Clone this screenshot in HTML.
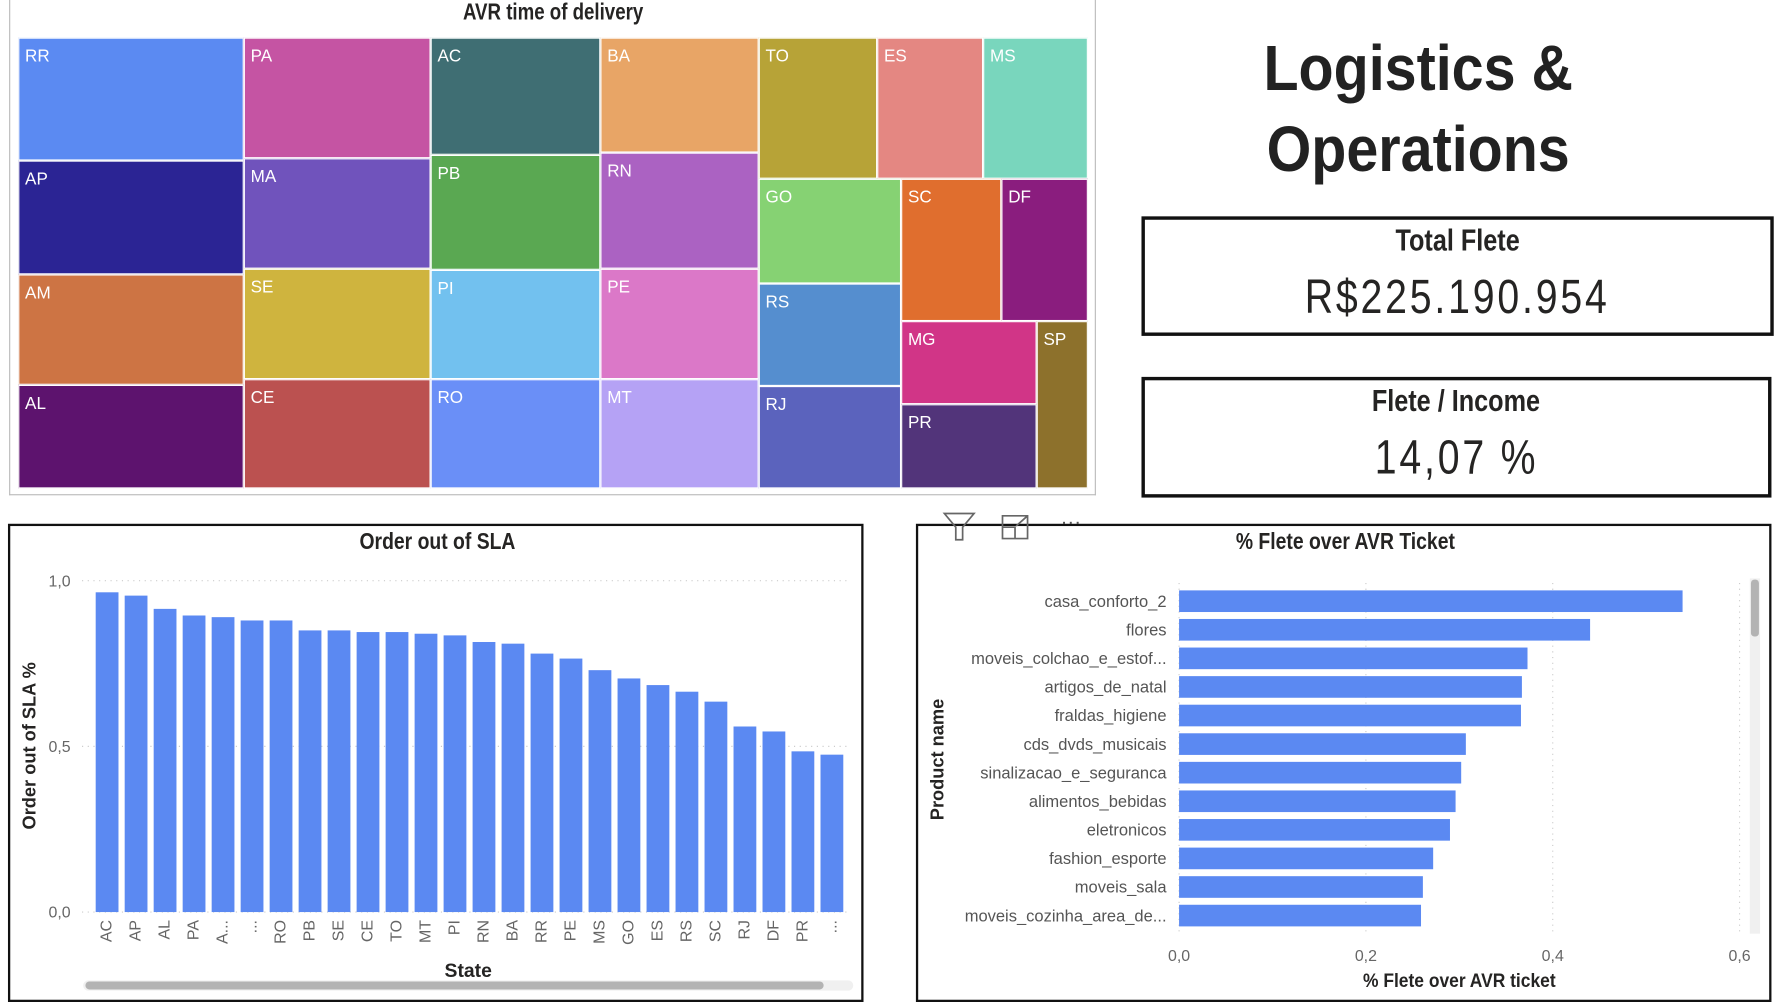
<!DOCTYPE html>
<html><head><meta charset="utf-8"><style>
html,body{margin:0;padding:0;background:#fff;overflow:hidden}
#wrap{position:absolute;left:0;top:0;width:1560px;height:880px;transform-origin:0 0;transform:scale(1.1392,1.13864);font-family:"Liberation Sans",sans-serif;color:#252423}
.abs{position:absolute}
.tm{position:absolute;box-sizing:border-box;border:1px solid #fff;color:#fff;font-size:15px;padding:7px 0 0 5px}
.card{position:absolute;box-sizing:border-box;border:3px solid #111;text-align:center}
.cond{display:inline-block;transform:scaleX(0.82)}
</style></head><body>
<div id="wrap">
<div class="abs" style="left:8px;top:-2px;width:954px;height:437px;border:1px solid #bbb;border-top:none;box-sizing:border-box"></div>
<div class="abs" style="left:8px;top:0;width:955px;text-align:center;font-size:20px;font-weight:bold"><span class="cond">AVR time of delivery</span></div>
<div id="treemap"></div>

<div class="abs" style="left:1030px;top:24px;width:430px;text-align:center;font-size:56px;font-weight:bold;line-height:71px;color:#222"><span class="cond" style="transform:scaleX(0.9)">Logistics &amp;<br>Operations</span></div>
<div class="card" style="left:1002px;top:190px;width:555px;height:105px">
 <div style="font-size:27px;font-weight:bold;margin-top:3px"><span class="cond">Total Flete</span></div>
 <div style="font-size:42px;margin-top:10px;letter-spacing:3px"><span class="cond">R$225.190.954</span></div>
</div>
<div class="card" style="left:1002px;top:331px;width:553px;height:106px">
 <div style="font-size:27px;font-weight:bold;margin-top:3px"><span class="cond">Flete / Income</span></div>
 <div style="font-size:42px;margin-top:10px;letter-spacing:3px"><span class="cond">14,07 %</span></div>
</div>

<div class="abs" style="left:7px;top:460px;width:751px;height:420px;border:2px solid #111;box-sizing:border-box"></div>
<svg class="abs" id="sla" style="left:0;top:0" width="1560" height="880"></svg>

<div class="abs" style="left:804px;top:460px;width:751px;height:420px;border:2px solid #111;box-sizing:border-box"></div>
<svg class="abs" id="hb" style="left:0;top:0" width="1560" height="880"></svg>
</div>
<script>
// Treemap
const tmNames=["RR","AP","AM","AL","PA","MA","SE","CE","AC","PB","PI","RO","BA","RN","PE","MT","TO","ES","MS","GO","RS","RJ","SC","DF","MG","PR","SP"];
const tmColors=["#5b8af2","#2b2494","#cd7444","#5d136e","#c554a3","#7053bc","#cfb43e","#bb5150","#3f6e73","#5aa852","#72c1ef","#6a8ff7","#e8a566","#ab62c2","#db78c8","#b5a2f5","#b7a337","#e48782","#79d6bd","#86d273","#558ecf","#5b63bd","#e06e2e","#8a1d7e","#d13587","#52347a","#8d712c"];
const tmRects=[[16,33,214,141],[16,141,214,241],[16,241,214,338],[16,338,214,429],[214,33,378,139],[214,139,378,236],[214,236,378,333],[214,333,378,429],[378,33,527,136],[378,136,527,237],[378,237,527,333],[378,333,527,429],[527,33,666,134],[527,134,666,236],[527,236,666,333],[527,333,666,429],[666,33,770,157],[770,33,863,157],[863,33,955,157],[666,157,791,249],[666,249,791,339],[666,339,791,429],[791,157,879,282],[879,157,955,282],[791,282,910,355],[791,355,910,429],[910,282,955,429]];
const tm=document.getElementById('treemap');
tmNames.forEach((n,i)=>{const r=tmRects[i];const d=document.createElement('div');d.className='tm';


d.style.cssText+=`left:${r[0]}px;top:${r[1]}px;width:${r[2]-r[0]}px;height:${r[3]-r[1]}px;background:${tmColors[i]}`;d.textContent=n;tm.appendChild(d);});

const NS='http://www.w3.org/2000/svg';
function mk(svg,tag,attrs,txt){const e=document.createElementNS(NS,tag);for(const k in attrs)e.setAttribute(k,attrs[k]);if(txt!==undefined)e.textContent=txt;svg.appendChild(e);return e;}

// SLA chart
const slaStates=["AC","AP","AL","PA","A...","...","RO","PB","SE","CE","TO","MT","PI","RN","BA","RR","PE","MS","GO","ES","RS","SC","RJ","DF","PR","..."];
const slaValues=[0.965,0.955,0.915,0.895,0.89,0.88,0.88,0.85,0.85,0.845,0.845,0.84,0.835,0.815,0.81,0.78,0.765,0.73,0.705,0.685,0.665,0.635,0.56,0.545,0.485,0.475];
const slaTicks=[0,0.5,1.0];
const sla=document.getElementById('sla');
const sy=v=>801-291*v, sx=i=>81.5+i*25.45;
let t=mk(sla,'text',{x:384,y:482,'text-anchor':'middle','font-size':20,'font-weight':'bold',fill:'#252423',transform:'translate(384 0) scale(0.85 1) translate(-384 0)'},'Order out of SLA');


slaTicks.forEach(v=>{const g=mk(sla,'line',{x1:72,x2:745,y1:sy(v),y2:sy(v),stroke:'#ccc','stroke-dasharray':'1 4'});


const l=mk(sla,'text',{x:62,y:sy(v)+5,'text-anchor':'end','font-size':14,fill:'#666'},v.toFixed(1).replace('.',','));

});
slaStates.forEach((s,i)=>{const b=mk(sla,'rect',{x:sx(i)+2.5,y:sy(slaValues[i]),width:20,height:sy(0)-sy(slaValues[i]),fill:'#5b89f2'});


const cx=sx(i)+16.5;const l=mk(sla,'text',{x:cx,y:808,'text-anchor':'end','font-size':14,fill:'#666',transform:`rotate(-90 ${cx} 808)`},s);

});
t=mk(sla,'text',{x:31,y:655,'text-anchor':'middle','font-size':16,'font-weight':'bold',fill:'#252423',transform:'rotate(-90 31 655)'},'Order out of SLA %');


t=mk(sla,'text',{x:411,y:858,'text-anchor':'middle','font-size':17,'font-weight':'bold',fill:'#252423'},'State');


t=mk(sla,'rect',{x:73,y:861,width:676,height:9,rx:4.5,fill:'#f0f0f0'});


t=mk(sla,'rect',{x:75,y:862,width:648,height:7,rx:3.5,fill:'#b3b3b3'});



// Horizontal bar chart
const hbProducts=["casa_conforto_2","flores","moveis_colchao_e_estof...","artigos_de_natal","fraldas_higiene","cds_dvds_musicais","sinalizacao_e_seguranca","alimentos_bebidas","eletronicos","fashion_esporte","moveis_sala","moveis_cozinha_area_de..."];
const hbValues=[0.539,0.44,0.373,0.367,0.366,0.307,0.302,0.296,0.29,0.272,0.261,0.259];
const hbTicks=[0,0.2,0.4,0.6];
const hb=document.getElementById('hb');
const hx=v=>1035+820*v, hy=i=>528+25.1*i;
t=mk(hb,'text',{x:1181,y:482,'text-anchor':'middle','font-size':20,'font-weight':'bold',fill:'#252423',transform:'translate(1181 0) scale(0.85 1) translate(-1181 0)'},'% Flete over AVR Ticket');


hbTicks.forEach(v=>{const g=mk(hb,'line',{x1:hx(v),x2:hx(v),y1:512,y2:818,stroke:'#ccc','stroke-dasharray':'1 4'});


const l=mk(hb,'text',{x:hx(v),y:844,'text-anchor':'middle','font-size':14,fill:'#666'},v.toFixed(1).replace('.',','));

});
hbProducts.forEach((p,i)=>{const b=mk(hb,'rect',{x:hx(0),y:hy(i)-9.5,width:hx(hbValues[i])-hx(0),height:19,fill:'#5b89f2'});


const l=mk(hb,'text',{x:1024,y:hy(i)+5,'text-anchor':'end','font-size':14.5,fill:'#555'},p);

});
t=mk(hb,'text',{x:828,y:667,'text-anchor':'middle','font-size':16,'font-weight':'bold',fill:'#252423',transform:'rotate(-90 828 667)'},'Product name');


t=mk(hb,'text',{x:1281,y:867,'text-anchor':'middle','font-size':17,'font-weight':'bold',fill:'#252423',transform:'translate(1281 0) scale(0.9 1) translate(-1281 0)'},'% Flete over AVR ticket');


t=mk(hb,'rect',{x:1536,y:508,width:9,height:312,fill:'#f0f0f0'});


t=mk(hb,'rect',{x:1537,y:509,width:7,height:50,rx:3,fill:'#b3b3b3'});


// header icons
t=mk(hb,'path',{d:'M829 451 L855 451 L845 463 L845 474 L839 474 L839 463 Z',fill:'none',stroke:'#666','stroke-width':1.5});


t=mk(hb,'path',{d:'M880 453 L880 473 L902 473 L902 453 Z M880 463 L891 463 L891 473 M892 462 L902 453',fill:'none',stroke:'#666','stroke-width':1.5});


t=mk(hb,'text',{x:940,y:464,'text-anchor':'middle','font-size':18,fill:'#555'},'···');


</script>
</body></html>
